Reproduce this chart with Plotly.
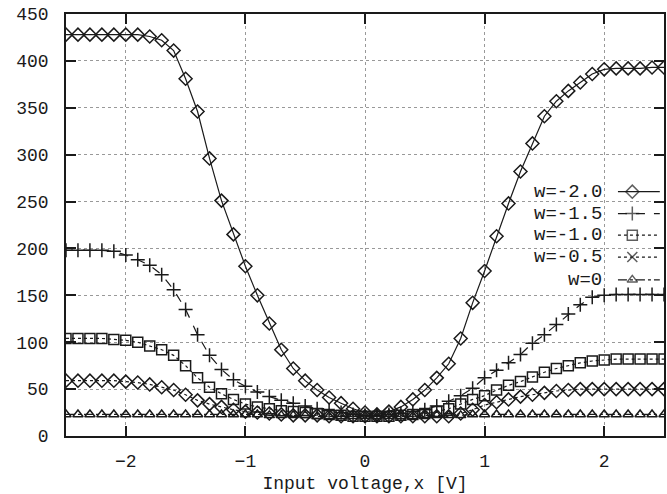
import plotly.graph_objects as go

x_volts = [-2.5, -2.4, -2.3, -2.2, -2.1, -2.0, -1.9, -1.8, -1.7, -1.6, -1.5, -1.4, -1.3,
           -1.2, -1.1, -1.0, -0.9, -0.8, -0.7, -0.6, -0.5, -0.4, -0.3, -0.2, -0.1, 0.0,
           0.1, 0.2, 0.3, 0.4, 0.5, 0.6, 0.7, 0.8, 0.9, 1.0, 1.1, 1.2, 1.3, 1.4, 1.5,
           1.6, 1.7, 1.8, 1.9, 2.0, 2.1, 2.2, 2.3, 2.4, 2.5]

w_m20 = [428, 428, 428, 428, 428, 428, 428, 426, 422, 411, 381, 346, 296,
         251, 215, 181, 150, 120, 92, 72, 59, 49, 41, 35, 29, 25,
         23, 26, 31, 39, 49, 62, 77, 104, 142, 176, 213, 248, 282, 312, 341,
         357, 368, 377, 386, 391, 392, 392, 392, 393, 393]

w_m15 = [198, 198, 198, 198, 197, 193, 188, 182, 172, 156, 135, 108, 86,
         71, 60, 53, 47, 42, 38, 35, 32, 29, 27, 25, 23, 22,
         22, 23, 24, 26, 28, 32, 37, 43, 51, 62, 70, 78, 87, 99, 108,
         119, 130, 140, 148, 150, 151, 151, 151, 151, 151]

w_m10 = [104, 104, 104, 104, 103, 102, 100, 96, 92, 86, 75, 62, 52,
         45, 39, 34, 31, 29, 27, 26, 25, 24, 23, 22, 21, 21,
         21, 21, 22, 23, 24, 26, 29, 34, 39, 43, 49, 54, 58, 63, 68,
         72, 75, 78, 80, 81, 82, 82, 82, 82, 82]

w_m05 = [59, 59, 59, 59, 59, 58, 57, 55, 52, 49, 44, 38, 34,
         31, 28, 26, 25, 24, 23, 22, 22, 22, 21, 21, 21, 21,
         21, 21, 21, 21, 21, 21, 21, 24, 28, 33, 36, 39, 42, 44, 46,
         48, 49, 50, 50, 50, 50, 50, 50, 50, 50]

w_0 = [23, 23, 23, 23, 23, 23, 23, 23, 23, 23, 23, 23, 23,
       23, 23, 23, 23, 22, 22, 22, 22, 21, 21, 21, 21, 21,
       21, 21, 21, 21, 22, 22, 22, 22, 23, 23, 23, 23, 23, 23, 23,
       23, 23, 23, 23, 23, 23, 23, 23, 23, 23]

series_names = ["w=-2.0", "w=-1.5", "w=-1.0", "w=-0.5", "w=0"]
series_values = [w_m20, w_m15, w_m10, w_m05, w_0]

styles = [
    dict(dash="solid", symbol="diamond-open", legend_symbol="diamond-open", size=10),
    dict(dash="dash", symbol="cross-thin-open", legend_symbol="cross-thin-open", size=10),
    dict(dash="dot", symbol="square-open", legend_symbol="square-open", size=10),
    dict(dash="dot", symbol="diamond-open", legend_symbol="x-thin-open", size=10),
    dict(dash="dashdot", symbol="triangle-up-open", legend_symbol="triangle-up-open", size=9),
]

FONT = "Liberation Mono, Courier New, monospace"
INK = "#1a1a1a"

fig = go.Figure()
for name, vals, st in zip(series_names, series_values, styles):
    fig.add_trace(go.Scatter(
        x=x_volts, y=vals, mode="lines+markers", name=name, showlegend=False,
        line=dict(color=INK, width=1.2, dash=st["dash"]),
        marker=dict(symbol=st["symbol"], size=st["size"], color=INK,
                    line=dict(color=INK, width=1.5)),
    ))

# gnuplot-style key: text on the left, sample on the right
legend_rows = [0.579, 0.527, 0.476, 0.424, 0.370]
for name, row, st in zip(series_names, legend_rows, styles):
    fig.add_annotation(x=0.9, y=row, xref="paper", yref="paper", text=name,
                       showarrow=False, xanchor="right", yanchor="middle",
                       font=dict(family=FONT, size=19, color=INK))
    fig.add_trace(go.Scatter(
        x=[0.923, 0.947, 0.993], y=[row, row, row], xaxis="x2", yaxis="y2",
        mode="lines+markers", showlegend=False, hoverinfo="skip",
        line=dict(color=INK, width=1.2, dash=st["dash"]),
        marker=dict(symbol=st["legend_symbol"], size=[0, st["size"], 0], color=INK,
                    line=dict(color=INK, width=1.5)),
    ))

axis_common = dict(
    showline=True, linecolor=INK, linewidth=1.5, mirror="ticks",
    ticks="inside", ticklen=10, tickwidth=1.5, tickcolor=INK,
    showgrid=True, gridcolor="#999999", griddash="dot", gridwidth=1,
    zeroline=False,
    tickfont=dict(family=FONT, size=18, color=INK),
)

fig.update_layout(
    width=667, height=494,
    margin=dict(l=66, r=1, t=14, b=55),
    paper_bgcolor="white", plot_bgcolor="white",
    xaxis=dict(range=[-2.5, 2.5], tickvals=[-2, -1, 0, 1, 2],
               title=dict(text="Input voltage,x [V]", standoff=8,
                          font=dict(family=FONT, size=18, color=INK)),
               ticklabelstandoff=8, **axis_common),
    yaxis=dict(range=[0, 450], tickvals=[0, 50, 100, 150, 200, 250, 300, 350, 400, 450],
               ticklabelstandoff=12, **axis_common),
    xaxis2=dict(range=[0, 1], overlaying="x", visible=False),
    yaxis2=dict(range=[0, 1], overlaying="y", visible=False),
    showlegend=False,
)

fig.write_html("out.html")
